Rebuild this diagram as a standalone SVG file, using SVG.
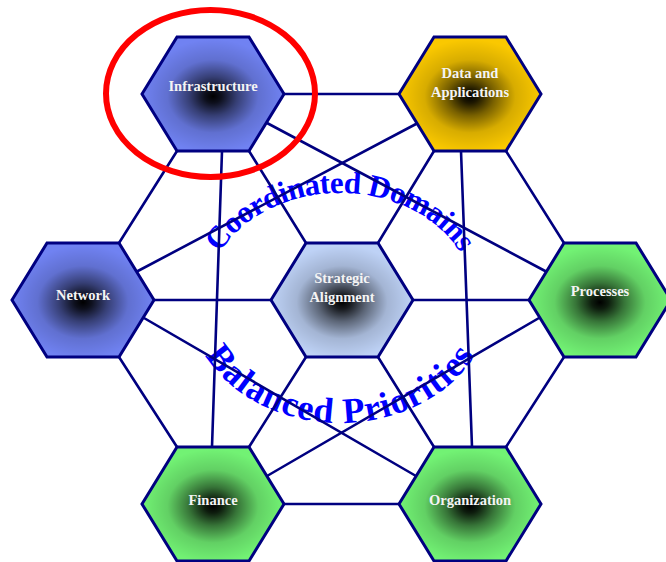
<svg xmlns="http://www.w3.org/2000/svg" xmlns:xlink="http://www.w3.org/1999/xlink" width="666" height="562" viewBox="0 0 666 562">
  <style>
    .edge { stroke: #000080; stroke-width: 2.6; fill: none; stroke-linecap: round; }
    .hex-outline { stroke: #000080; stroke-width: 3; stroke-linejoin: miter; }
    .lbl { font-family: "Liberation Serif", "Times New Roman", serif; font-weight: bold; font-size: 14.5px; fill: #F4F4F4; text-anchor: middle; }
    .arc { font-family: "Liberation Serif", "Times New Roman", serif; font-weight: bold; fill: #0000FF; }
    .focus { fill: none; stroke: #FF0000; stroke-width: 6; }
  </style>
  <defs>
    <!-- flat-topped hexagon centred on the origin -->
    <polygon id="hex" points="-71,0 -36,-57 36,-57 71,0 36,57 -36,57"/>
    <!-- dark core fading out toward the rim -->
    <radialGradient id="shade" cx="0.5" cy="0.52" r="0.5">
      <stop offset="0" stop-color="#000" stop-opacity="1"/>
      <stop offset="0.12" stop-color="#000" stop-opacity="0.88"/>
      <stop offset="0.34" stop-color="#000" stop-opacity="0.52"/>
      <stop offset="0.64" stop-color="#000" stop-opacity="0.14"/>
      <stop offset="1" stop-color="#000" stop-opacity="0"/>
    </radialGradient>
    <path id="arcTop" d="M 220,252.4 A 134,107 0 0 1 460,252.4"/>
    <path id="arcBottom" d="M 204,353.4 A 151,123 0 0 0 476,353.4"/>
  </defs>

  <!-- arched captions -->
  <g id="captions">
    <text class="arc" font-size="31"><textPath xlink:href="#arcTop" href="#arcTop" startOffset="50%" text-anchor="middle" textLength="280" lengthAdjust="spacing">Coordinated Domains</textPath></text>
    <text class="arc" font-size="36"><textPath xlink:href="#arcBottom" href="#arcBottom" startOffset="50%" text-anchor="middle" textLength="314" lengthAdjust="spacing">Balanced Priorities</textPath></text>
  </g>

  <!-- connectors -->
  <g id="connectors">
    <line class="edge" x1="284" y1="94" x2="399" y2="94"/>
    <line class="edge" x1="154" y1="300" x2="271" y2="300"/>
    <line class="edge" x1="413" y1="300" x2="529" y2="300"/>
    <line class="edge" x1="284" y1="504" x2="399" y2="504"/>
    <line class="edge" x1="177" y1="151" x2="119" y2="243"/>
    <line class="edge" x1="506" y1="151" x2="564" y2="243"/>
    <line class="edge" x1="119" y1="357" x2="177" y2="447"/>
    <line class="edge" x1="564" y1="357" x2="506" y2="447"/>
    <line class="edge" x1="249" y1="151" x2="306" y2="243"/>
    <line class="edge" x1="434" y1="151" x2="378" y2="243"/>
    <line class="edge" x1="249" y1="447" x2="306" y2="357"/>
    <line class="edge" x1="434" y1="447" x2="378" y2="357"/>
    <line class="edge" x1="222" y1="151" x2="212" y2="447"/>
    <line class="edge" x1="461" y1="151" x2="472" y2="447"/>
    <line class="edge" x1="267" y1="123" x2="547" y2="272"/>
    <line class="edge" x1="416" y1="124" x2="136" y2="272"/>
    <line class="edge" x1="144" y1="318" x2="416" y2="476"/>
    <line class="edge" x1="539" y1="318" x2="267" y2="476"/>
  </g>

  <g id="infrastructure" transform="translate(213,94)">
    <use href="#hex" fill="#7082F2"/>
    <use href="#hex" class="hex-outline" fill="url(#shade)"/>
    <text class="lbl" y="-3">Infrastructure</text>
  </g>
  <g id="data-applications" transform="translate(470,94)">
    <use href="#hex" fill="#FAC800"/>
    <use href="#hex" class="hex-outline" fill="url(#shade)"/>
    <text class="lbl" y="-16">Data and</text>
    <text class="lbl" y="2.5">Applications</text>
  </g>
  <g id="network" transform="translate(83,300)">
    <use href="#hex" fill="#7082F2"/>
    <use href="#hex" class="hex-outline" fill="url(#shade)"/>
    <text class="lbl" y="0">Network</text>
  </g>
  <g id="strategic-alignment" transform="translate(342,300)">
    <use href="#hex" fill="#BED2F6"/>
    <use href="#hex" class="hex-outline" fill="url(#shade)"/>
    <text class="lbl" y="-17">Strategic</text>
    <text class="lbl" y="1.5">Alignment</text>
  </g>
  <g id="processes" transform="translate(600,300)">
    <use href="#hex" fill="#72F274"/>
    <use href="#hex" class="hex-outline" fill="url(#shade)"/>
    <text class="lbl" y="-4">Processes</text>
  </g>
  <g id="finance" transform="translate(213,504)">
    <use href="#hex" fill="#72F274"/>
    <use href="#hex" class="hex-outline" fill="url(#shade)"/>
    <text class="lbl" y="0.5">Finance</text>
  </g>
  <g id="organization" transform="translate(470,504)">
    <use href="#hex" fill="#72F274"/>
    <use href="#hex" class="hex-outline" fill="url(#shade)"/>
    <text class="lbl" y="0.5">Organization</text>
  </g>

  <!-- highlight ring -->
  <ellipse class="focus" cx="210.5" cy="93.5" rx="104.5" ry="83.5"/>
</svg>
